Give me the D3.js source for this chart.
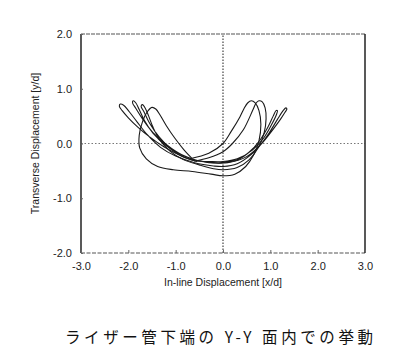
<!DOCTYPE html>
<html><head><meta charset="utf-8">
<script src="https://cdn.jsdelivr.net/npm/d3@7/dist/d3.min.js"></script>
<style>body{margin:0;background:#fff}svg{display:block}</style>
</head><body>
<script>
const xTicks = [-3, -2, -1, 0, 1, 2, 3];
const yTicks = [-2, -1, 0, 1, 2];
const xTitle = "In-line Displacement [x/d]";
const yTitle = "Transverse Displacement [y/d]";
const caption = "ライザー管下端の Y-Y 面内での挙動";

// trajectory of the riser bottom, one array per cycle [x/d, y/d]
const cycle1 = [[-0.55,-0.33],[-0.9,-0.22],[-1.25,-0.06],[-1.55,0.12],[-1.8,0.30],[-2.0,0.47],[-2.13,0.6],[-2.19,0.68],[-2.17,0.72],[-2.1,0.70],[-1.98,0.58],[-1.82,0.4],[-1.6,0.16],[-1.32,-0.07],[-1.0,-0.23],[-0.6,-0.35],[-0.2,-0.41],[0.0,-0.42],[0.3,-0.37],[0.6,-0.2],[0.85,0.03],[1.05,0.25],[1.22,0.45],[1.31,0.57],[1.35,0.63],[1.33,0.65],[1.27,0.6],[1.15,0.44],[0.98,0.2],[0.78,-0.03],[0.5,-0.24],[0.1,-0.35],[-0.2,-0.35],[-0.55,-0.31]];
const cycle2 = [[-0.55,-0.31],[-0.88,-0.2],[-1.18,-0.03],[-1.48,0.2],[-1.7,0.45],[-1.84,0.64],[-1.91,0.74],[-1.9,0.78],[-1.84,0.74],[-1.77,0.62],[-1.66,0.42],[-1.48,0.19],[-1.2,-0.04],[-0.85,-0.22],[-0.5,-0.32],[-0.1,-0.36],[0.0,-0.35],[0.3,-0.3],[0.55,-0.16],[0.78,0.06],[0.95,0.3],[1.06,0.5],[1.12,0.6],[1.15,0.6],[1.13,0.53],[1.03,0.35],[0.86,0.1],[0.62,-0.12],[0.3,-0.28],[0.0,-0.33],[-0.3,-0.33],[-0.58,-0.32]];
const cycle3 = [[-0.58,-0.32],[-0.85,-0.24],[-1.1,-0.1],[-1.35,0.12],[-1.55,0.37],[-1.67,0.58],[-1.73,0.68],[-1.7,0.71],[-1.64,0.64],[-1.57,0.5],[-1.48,0.3],[-1.34,0.07],[-1.12,-0.14],[-0.85,-0.29],[-0.5,-0.39],[-0.2,-0.46],[0.0,-0.48],[0.3,-0.44],[0.55,-0.3],[0.75,-0.07],[0.87,0.2],[0.91,0.45],[0.89,0.65],[0.83,0.76],[0.76,0.78],[0.7,0.74],[0.63,0.61],[0.43,0.25],[0.2,0.0],[0.0,-0.15],[-0.3,-0.26],[-0.6,-0.32]];
const cycle4 = [[-0.6,-0.32],[-0.82,-0.12],[-1.02,0.1],[-1.2,0.33],[-1.33,0.52],[-1.42,0.63],[-1.5,0.66],[-1.6,0.58],[-1.7,0.4],[-1.77,0.15],[-1.76,-0.08],[-1.62,-0.28],[-1.38,-0.42],[-1.05,-0.48],[-0.65,-0.51],[-0.25,-0.56],[0.0,-0.59],[0.25,-0.56],[0.48,-0.42],[0.64,-0.22],[0.76,0.05],[0.8,0.35],[0.76,0.6],[0.68,0.74],[0.6,0.78],[0.52,0.74],[0.44,0.63],[0.36,0.49],[0.18,0.23],[0.0,0.0],[-0.3,-0.18],[-0.7,-0.28]];
const cycles = [cycle1, cycle2, cycle3, cycle4];

const W = 400, H = 359;
const svg = d3.select("body").append("svg").attr("width", W).attr("height", H);
const x = d3.scaleLinear().domain([-3, 3]).range([81, 365]);
const y = d3.scaleLinear().domain([-2, 2]).range([253, 34]);
const font = "'Liberation Sans', Arial, sans-serif";
const fmt = d => d3.format(".1f")(d).replace("\u2212", "-");

// zero reference lines
svg.append("line").attr("x1", x(-3)).attr("x2", x(3)).attr("y1", y(0)).attr("y2", y(0))
  .attr("stroke", "#777").attr("stroke-width", 1).attr("stroke-dasharray", "1.5,2");
svg.append("line").attr("x1", x(0)).attr("x2", x(0)).attr("y1", y(-2)).attr("y2", y(2))
  .attr("stroke", "#444").attr("stroke-width", 1.2).attr("stroke-dasharray", "1.5,1.5");

// frame
svg.append("line").attr("x1", x(-3)).attr("x2", x(3)).attr("y1", y(2)).attr("y2", y(2))
  .attr("stroke", "#555").attr("stroke-width", 1.2).attr("stroke-dasharray", "4,1");
svg.append("line").attr("x1", x(-3)).attr("x2", x(3)).attr("y1", y(-2)).attr("y2", y(-2))
  .attr("stroke", "#555").attr("stroke-width", 1.2).attr("stroke-dasharray", "4,1.5");
svg.append("line").attr("x1", x(-3)).attr("x2", x(-3)).attr("y1", y(-2)).attr("y2", y(2))
  .attr("stroke", "#222").attr("stroke-width", 1.5);
svg.append("line").attr("x1", x(3)).attr("x2", x(3)).attr("y1", y(-2)).attr("y2", y(2))
  .attr("stroke", "#222").attr("stroke-width", 1.5);

// axes (inward small ticks, labels)
const xAxis = d3.axisBottom(x).tickValues(xTicks).tickSize(-3).tickPadding(9).tickFormat(fmt);
const gx = svg.append("g").attr("transform", `translate(0,${y(-2)})`).call(xAxis);
const yAxis = d3.axisLeft(y).tickValues(yTicks).tickSize(-2).tickPadding(9).tickFormat(fmt);
const gy = svg.append("g").attr("transform", `translate(${x(-3)},0)`).call(yAxis);
[gx, gy].forEach(g => {
  g.select(".domain").remove();
  g.selectAll(".tick line").attr("stroke", "#666");
  g.selectAll(".tick text").attr("font-family", font).attr("font-size", 11).attr("fill", "#222");
});

// titles
svg.append("text").attr("x", x(0)).attr("y", 286).attr("text-anchor", "middle")
  .attr("font-family", font).attr("font-size", 10.5).attr("fill", "#222").text(xTitle);
svg.append("text").attr("transform", `translate(39,${y(0)}) rotate(-90)`).attr("text-anchor", "middle")
  .attr("font-family", font).attr("font-size", 10.5).attr("fill", "#222").text(yTitle);

// trajectory
const line = d3.line().x(d => x(d[0])).y(d => y(d[1])).curve(d3.curveCatmullRom.alpha(0.5));
svg.append("g").selectAll("path").data(cycles).join("path")
  .attr("d", line).attr("fill", "none").attr("stroke", "#1a1a1a").attr("stroke-width", 1.1);

// caption
svg.append("text").attr("x", 65).attr("y", 343).attr("textLength", 308).attr("lengthAdjust", "spacing")
  .attr("font-family", "'Noto Sans CJK JP', sans-serif").attr("font-size", 15.5).attr("fill", "#111").text(caption);
</script>
</body></html>
